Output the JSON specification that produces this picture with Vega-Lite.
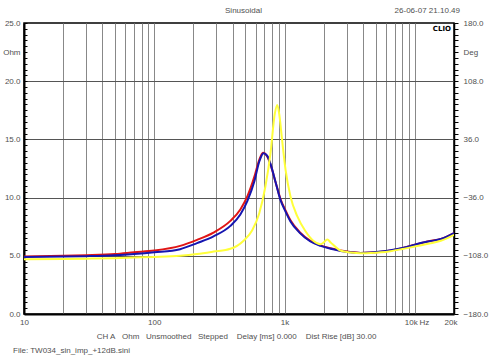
{
  "$schema": "https://vega.github.io/schema/vega-lite/v6.json",
  "width": 430,
  "height": 291,
  "autosize": {"type": "none"},
  "padding": {"left": 24, "top": 23, "right": 37, "bottom": 47},
  "background": "#ffffff",
  "config": {
    "view": {"stroke": "#000000", "strokeWidth": 1.5},
    "font": "Liberation Sans",
    "axis": {"labelFont": "Liberation Sans", "labelFontSize": 8, "labelColor": "#505050", "titleFont": "Liberation Sans"}
  },
  "datasets": {
    "curves": [
      {"f": 10, "z": 4.95, "s": "curve1"}, {"f": 20, "z": 5.0, "s": "curve1"}, {"f": 30, "z": 5.05, "s": "curve1"}, {"f": 50, "z": 5.15, "s": "curve1"}, {"f": 70, "z": 5.3, "s": "curve1"}, {"f": 100, "z": 5.45, "s": "curve1"}, {"f": 158, "z": 5.85, "s": "curve1"}, {"f": 213, "z": 6.37, "s": "curve1"}, {"f": 285, "z": 7.0, "s": "curve1"}, {"f": 384, "z": 8.0, "s": "curve1"}, {"f": 458, "z": 8.98, "s": "curve1"}, {"f": 518, "z": 10.1, "s": "curve1"}, {"f": 587, "z": 11.8, "s": "curve1"}, {"f": 640, "z": 13.25, "s": "curve1"}, {"f": 683, "z": 13.85, "s": "curve1"}, {"f": 735, "z": 13.55, "s": "curve1"}, {"f": 780, "z": 12.85, "s": "curve1"}, {"f": 855, "z": 11.3, "s": "curve1"}, {"f": 930, "z": 9.9, "s": "curve1"}, {"f": 1018, "z": 8.9, "s": "curve1"}, {"f": 1111, "z": 8.05, "s": "curve1"}, {"f": 1315, "z": 7.0, "s": "curve1"}, {"f": 1570, "z": 6.3, "s": "curve1"}, {"f": 1890, "z": 5.9, "s": "curve1"}, {"f": 2260, "z": 5.65, "s": "curve1"}, {"f": 2700, "z": 5.45, "s": "curve1"}, {"f": 3200, "z": 5.32, "s": "curve1"}, {"f": 3850, "z": 5.25, "s": "curve1"}, {"f": 4600, "z": 5.28, "s": "curve1"}, {"f": 5500, "z": 5.35, "s": "curve1"}, {"f": 6500, "z": 5.46, "s": "curve1"}, {"f": 7850, "z": 5.63, "s": "curve1"}, {"f": 10000, "z": 5.95, "s": "curve1"}, {"f": 13000, "z": 6.27, "s": "curve1"}, {"f": 15850, "z": 6.45, "s": "curve1"}, {"f": 20000, "z": 6.95, "s": "curve1"},
      {"f": 10, "z": 4.9, "s": "curve2"}, {"f": 20, "z": 4.93, "s": "curve2"}, {"f": 30, "z": 4.97, "s": "curve2"}, {"f": 50, "z": 5.05, "s": "curve2"}, {"f": 70, "z": 5.15, "s": "curve2"}, {"f": 100, "z": 5.3, "s": "curve2"}, {"f": 158, "z": 5.57, "s": "curve2"}, {"f": 213, "z": 6.09, "s": "curve2"}, {"f": 285, "z": 6.67, "s": "curve2"}, {"f": 384, "z": 7.57, "s": "curve2"}, {"f": 458, "z": 8.55, "s": "curve2"}, {"f": 518, "z": 9.69, "s": "curve2"}, {"f": 587, "z": 11.4, "s": "curve2"}, {"f": 640, "z": 13.1, "s": "curve2"}, {"f": 690, "z": 13.82, "s": "curve2"}, {"f": 735, "z": 13.6, "s": "curve2"}, {"f": 780, "z": 12.9, "s": "curve2"}, {"f": 855, "z": 11.3, "s": "curve2"}, {"f": 930, "z": 9.8, "s": "curve2"}, {"f": 1018, "z": 8.8, "s": "curve2"}, {"f": 1111, "z": 7.95, "s": "curve2"}, {"f": 1315, "z": 6.95, "s": "curve2"}, {"f": 1570, "z": 6.25, "s": "curve2"}, {"f": 1890, "z": 5.85, "s": "curve2"}, {"f": 2260, "z": 5.6, "s": "curve2"}, {"f": 2700, "z": 5.42, "s": "curve2"}, {"f": 3200, "z": 5.3, "s": "curve2"}, {"f": 3850, "z": 5.25, "s": "curve2"}, {"f": 4600, "z": 5.28, "s": "curve2"}, {"f": 5500, "z": 5.36, "s": "curve2"}, {"f": 6500, "z": 5.47, "s": "curve2"}, {"f": 7850, "z": 5.64, "s": "curve2"}, {"f": 10000, "z": 5.95, "s": "curve2"}, {"f": 11100, "z": 6.1, "s": "curve2"}, {"f": 13000, "z": 6.25, "s": "curve2"}, {"f": 15850, "z": 6.44, "s": "curve2"}, {"f": 20000, "z": 6.95, "s": "curve2"},
      {"f": 10, "z": 4.7, "s": "curve3"}, {"f": 20, "z": 4.72, "s": "curve3"}, {"f": 30, "z": 4.75, "s": "curve3"}, {"f": 50, "z": 4.8, "s": "curve3"}, {"f": 70, "z": 4.85, "s": "curve3"}, {"f": 100, "z": 4.9, "s": "curve3"}, {"f": 158, "z": 5.0, "s": "curve3"}, {"f": 213, "z": 5.15, "s": "curve3"}, {"f": 285, "z": 5.36, "s": "curve3"}, {"f": 384, "z": 5.6, "s": "curve3"}, {"f": 485, "z": 6.3, "s": "curve3"}, {"f": 565, "z": 7.2, "s": "curve3"}, {"f": 640, "z": 8.66, "s": "curve3"}, {"f": 713, "z": 10.95, "s": "curve3"}, {"f": 780, "z": 13.8, "s": "curve3"}, {"f": 842, "z": 17.2, "s": "curve3"}, {"f": 880, "z": 17.95, "s": "curve3"}, {"f": 915, "z": 17.0, "s": "curve3"}, {"f": 957, "z": 15.0, "s": "curve3"}, {"f": 1018, "z": 12.4, "s": "curve3"}, {"f": 1111, "z": 10.1, "s": "curve3"}, {"f": 1252, "z": 8.4, "s": "curve3"}, {"f": 1445, "z": 7.13, "s": "curve3"}, {"f": 1672, "z": 6.27, "s": "curve3"}, {"f": 1890, "z": 6.0, "s": "curve3"}, {"f": 2000, "z": 6.15, "s": "curve3"}, {"f": 2130, "z": 6.4, "s": "curve3"}, {"f": 2260, "z": 6.15, "s": "curve3"}, {"f": 2500, "z": 5.7, "s": "curve3"}, {"f": 2710, "z": 5.43, "s": "curve3"}, {"f": 3200, "z": 5.29, "s": "curve3"}, {"f": 3850, "z": 5.22, "s": "curve3"}, {"f": 4600, "z": 5.24, "s": "curve3"}, {"f": 5500, "z": 5.3, "s": "curve3"}, {"f": 6500, "z": 5.4, "s": "curve3"}, {"f": 7850, "z": 5.56, "s": "curve3"}, {"f": 10000, "z": 5.8, "s": "curve3"}, {"f": 13000, "z": 6.05, "s": "curve3"}, {"f": 15850, "z": 6.29, "s": "curve3"}, {"f": 20000, "z": 6.8, "s": "curve3"}
    ],
    "one": [{}]
  },
  "layer": [
    {
      "data": {"name": "curves"},
      "mark": {"type": "line", "strokeWidth": 2, "interpolate": "monotone", "clip": true},
      "encoding": {
        "x": {
          "field": "f", "type": "quantitative",
          "scale": {"type": "log", "domain": [10, 20000], "nice": false},
          "axis": {
            "values": [10, 20, 30, 40, 50, 60, 70, 80, 90, 100, 200, 300, 400, 500, 600, 700, 800, 900, 1000, 2000, 3000, 4000, 5000, 6000, 7000, 8000, 9000, 9300, 10000, 11730, 18800],
            "labelExpr": "datum.value == 10 ? '10' : datum.value == 100 ? '100' : datum.value == 1000 ? '1k' : datum.value == 9300 ? '10k' : datum.value == 11730 ? 'Hz' : datum.value == 18800 ? '20k' : ''",
            "labelOverlap": false, "labelFlush": false, "labelBound": false,
            "labelPadding": 4,
            "ticks": false,
            "grid": true, "gridColor": "#888888", "gridWidth": 1,
            "gridOpacity": {"condition": {"test": "datum.value == 10 || datum.value == 9300 || datum.value == 11730 || datum.value == 18800", "value": 0}, "value": 1},
            "domain": true, "domainColor": "#000000", "domainWidth": 2,
            "title": "CH A\u00a0\u00a0\u00a0Ohm\u00a0\u00a0\u00a0Unsmoothed\u00a0\u00a0\u00a0Stepped\u00a0\u00a0\u00a0\u00a0Delay [ms] 0.000\u00a0\u00a0\u00a0\u00a0Dist Rise [dB] 30.00",
            "titleFontSize": 8, "titleFontWeight": "normal", "titleColor": "#505050",
            "titleX": 212, "titleY": 22, "titleBaseline": "middle", "titleAlign": "center"
          }
        },
        "y": {
          "field": "z", "type": "quantitative",
          "scale": {"domain": [0, 25], "nice": false, "zero": false},
          "axis": {
            "orient": "left",
            "values": [0, 0.5, 1, 1.5, 2, 2.5, 3, 3.5, 4, 4.5, 5, 5.5, 6, 6.5, 7, 7.5, 8, 8.5, 9, 9.5, 10, 10.5, 11, 11.5, 12, 12.5, 13, 13.5, 14, 14.5, 15, 15.5, 16, 16.5, 17, 17.5, 18, 18.5, 19, 19.5, 20, 20.5, 21, 21.5, 22, 22.5, 23, 23.5, 24, 24.5, 25],
            "labelExpr": "datum.value % 5 == 0 ? format(datum.value, '.1f') : datum.value == 22.5 ? 'Ohm' : ''",
            "labelOverlap": false, "labelFlush": false, "labelBound": false,
            "ticks": true, "tickSize": -3, "tickColor": "#000000", "tickWidth": 1,
            "labelPadding": 7,
            "grid": true, "gridColor": "#555555", "gridWidth": 1,
            "gridOpacity": {"condition": {"test": "datum.value % 5 != 0 || datum.value == 0 || datum.value == 25", "value": 0}, "value": 1},
            "domain": true, "domainColor": "#000000", "domainWidth": 2,
            "title": null
          }
        },
        "color": {
          "field": "s", "type": "nominal",
          "scale": {"domain": ["curve1", "curve2", "curve3"], "range": ["#e01515", "#1515b0", "#ffff3a"]},
          "legend": null
        }
      }
    },
    {
      "data": {"name": "one"},
      "mark": {"type": "rule", "strokeOpacity": 0},
      "encoding": {
        "y": {
          "datum": 0, "type": "quantitative",
          "axis": {
            "orient": "right",
            "values": [0, 0.5, 1, 1.5, 2, 2.5, 3, 3.5, 4, 4.5, 5, 5.5, 6, 6.5, 7, 7.5, 8, 8.5, 9, 9.5, 10, 10.5, 11, 11.5, 12, 12.5, 13, 13.5, 14, 14.5, 15, 15.5, 16, 16.5, 17, 17.5, 18, 18.5, 19, 19.5, 20, 20.5, 21, 21.5, 22, 22.5, 23, 23.5, 24, 24.5, 25],
            "labelExpr": "datum.value % 5 == 0 ? format(datum.value * 14.4 - 180, '.1f') : datum.value == 22.5 ? 'Deg' : ''",
            "labelOverlap": false, "labelFlush": false, "labelBound": false,
            "ticks": true, "tickSize": 4, "tickColor": "#000000", "tickWidth": 1,
            "labelPadding": 5,
            "grid": false,
            "domain": true, "domainColor": "#000000", "domainWidth": 1.5,
            "title": null
          }
        }
      }
    },
    {
      "data": {"name": "one"},
      "mark": {"type": "text", "text": "Sinusoidal", "fontSize": 8, "color": "#505050", "align": "center", "baseline": "middle"},
      "encoding": {"x": {"datum": 484}, "y": {"datum": 26.05, "axis": null}}
    },
    {
      "data": {"name": "one"},
      "mark": {"type": "text", "text": "26-06-07 21.10.49", "fontSize": 8, "color": "#505050", "align": "right", "baseline": "middle", "dx": 6},
      "encoding": {"x": {"datum": 20000}, "y": {"datum": 26.05, "axis": null}}
    },
    {
      "data": {"name": "one"},
      "mark": {"type": "text", "text": "CLIO", "fontSize": 7, "font": "DejaVu Sans", "fontWeight": "bold", "color": "#000000", "align": "right", "baseline": "middle", "dx": -3},
      "encoding": {"x": {"datum": 20000}, "y": {"datum": 24.47, "axis": null}}
    },
    {
      "data": {"name": "one"},
      "mark": {"type": "text", "text": "File: TW034_sin_imp_+12dB.sini", "fontSize": 8, "color": "#505050", "align": "left", "baseline": "middle", "dx": -11},
      "encoding": {"x": {"datum": 10}, "y": {"datum": -3.15, "axis": null}}
    }
  ],
  "resolve": {"axis": {"y": "independent"}}
}
